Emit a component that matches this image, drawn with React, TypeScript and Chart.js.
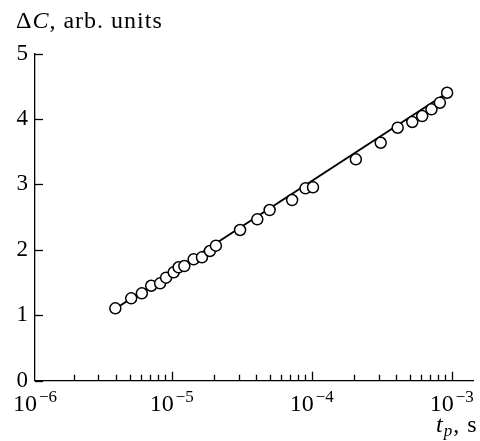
import React, { useEffect, useRef } from "react";
import { Chart, registerables } from "chart.js";

Chart.register(...registerables);

// Measured relaxation: pulse duration t_p (s) vs capacitance change ΔC (arb. units)
const pulseTimes = [
  3.96e-6, 5.14e-6, 6.12e-6, 7.14e-6, 8.27e-6, 9.12e-6, 1.033e-5, 1.121e-5, 1.231e-5,
  1.434e-5, 1.645e-5, 1.875e-5, 2.069e-5, 3.078e-5, 4.085e-5, 5.005e-5, 7.24e-5,
  9.02e-5, 1.021e-4, 2.065e-4, 3.108e-4, 4.106e-4, 5.222e-4, 6.15e-4, 7.16e-4,
  8.22e-4, 9.26e-4,
];
const deltaC = [
  1.106, 1.259, 1.335, 1.451, 1.488, 1.574, 1.656, 1.733, 1.752,
  1.855, 1.885, 1.982, 2.063, 2.303, 2.466, 2.608, 2.761,
  2.94, 2.955, 3.383, 3.636, 3.866, 3.953, 4.044, 4.147,
  4.248, 4.4,
];

// Logarithmic fit line (endpoints)
const fitTimes = [3.96e-6, 9.3e-4];
const fitValues = [1.1, 4.4];

// Axes
const xMin = 1.057e-6;
const xMax = 1.417e-3;
const xLabelExponents = [-6, -5, -4, -3];
const yMin = 0;
const yMax = 5;

const SERIF = "'Liberation Serif', 'Times New Roman', serif";

const decorPlugin = {
  id: "decor",
  afterDraw(chart: any) {
    const { ctx, chartArea } = chart;
    const xs = chart.scales.x;
    const ys = chart.scales.y;
    ctx.save();
    ctx.strokeStyle = "#000";
    ctx.fillStyle = "#000";
    ctx.lineWidth = 1.3;

    // inward y tick marks
    for (const t of ys.ticks) {
      const y = Math.round(ys.getPixelForValue(t.value)) + 0.5;
      ctx.beginPath();
      ctx.moveTo(chartArea.left, y);
      ctx.lineTo(chartArea.left + 8, y);
      ctx.stroke();
    }

    // inward x tick marks (major at decades, minor at 2..9)
    for (let d = -7; d <= -2; d++) {
      for (let m = 1; m <= 9; m++) {
        const v = m * Math.pow(10, d);
        if (v <= xMin || v > xMax) continue;
        const x = Math.round(xs.getPixelForValue(v)) + 0.5;
        const len = m === 1 ? 9 : 6;
        ctx.beginPath();
        ctx.moveTo(x, chartArea.bottom);
        ctx.lineTo(x, chartArea.bottom - len);
        ctx.stroke();
      }
    }

    // x tick labels as 10^n
    ctx.textBaseline = "alphabetic";
    for (const e of xLabelExponents) {
      const px = Math.max(chartArea.left, xs.getPixelForValue(Math.pow(10, e)));
      const base = "10";
      const exp = "\u2212" + Math.abs(e);
      ctx.font = `24px ${SERIF}`;
      const wb = ctx.measureText(base).width;
      ctx.font = `17px ${SERIF}`;
      const we = ctx.measureText(exp).width;
      const gap = 2;
      const total = wb + gap + we;
      const x0 = px - total / 2;
      ctx.textAlign = "left";
      ctx.font = `24px ${SERIF}`;
      ctx.fillText(base, x0, 411);
      ctx.font = `17px ${SERIF}`;
      ctx.fillText(exp, x0 + wb + gap, 401.5);
    }

    // y axis title: ΔC, arb. units
    ctx.textAlign = "left";
    (ctx as any).letterSpacing = "1px";
    let tx = 16;
    const ty = 28;
    ctx.font = `24px ${SERIF}`;
    ctx.fillText("\u0394", tx, ty);
    tx += ctx.measureText("\u0394").width;
    ctx.font = `italic 24px ${SERIF}`;
    ctx.fillText("C", tx, ty);
    tx += ctx.measureText("C").width;
    ctx.font = `24px ${SERIF}`;
    ctx.fillText(", arb. units", tx, ty);

    // x axis title: t_p, s
    let ax = 436;
    const ab = 432;
    ctx.font = `italic 24px ${SERIF}`;
    ctx.fillText("t", ax, ab);
    ax += ctx.measureText("t").width;
    ctx.font = `italic 17px ${SERIF}`;
    ctx.fillText("p", ax, ab + 4);
    ax += ctx.measureText("p").width;
    ctx.font = `24px ${SERIF}`;
    ctx.fillText(", s", ax, ab);
    (ctx as any).letterSpacing = "0px";

    ctx.restore();
  },
};

export default function App() {
  const canvasRef = useRef<HTMLCanvasElement | null>(null);

  useEffect(() => {
    const canvas = canvasRef.current;
    if (!canvas) return;
    const points = pulseTimes.map((t, i) => ({ x: t, y: deltaC[i] }));
    const fit = fitTimes.map((t, i) => ({ x: t, y: fitValues[i] }));

    const chart = new Chart(canvas, {
      type: "scatter",
      data: {
        datasets: [
          {
            label: "data",
            data: points,
            pointRadius: 5.5,
            pointBorderWidth: 1.5,
            pointBackgroundColor: "#fff",
            pointBorderColor: "#000",
            showLine: false,
            order: 0,
          },
          {
            label: "fit",
            data: fit,
            showLine: true,
            borderColor: "#000",
            borderWidth: 2,
            pointRadius: 0,
            order: 1,
          },
        ],
      },
      options: {
        responsive: false,
        animation: false,
        layout: { padding: { left: 0, right: 5, top: 53.5, bottom: 0 } },
        plugins: {
          legend: { display: false },
          tooltip: { enabled: false },
          title: { display: false },
        },
        scales: {
          x: {
            type: "logarithmic",
            min: xMin,
            max: xMax,
            ticks: { display: false },
            grid: { display: true, drawOnChartArea: false, drawTicks: false },
            border: { display: true, color: "#000", width: 1.3 },
            afterFit: (s: any) => {
              s.height = 441 - 380.7;
            },
          },
          y: {
            min: yMin,
            max: yMax,
            ticks: {
              stepSize: 1,
              padding: 7,
              color: "#000",
              font: { family: SERIF, size: 23 },
            },
            grid: { display: true, drawOnChartArea: false, drawTicks: false },
            border: { display: true, color: "#000", width: 1.3 },
            afterFit: (s: any) => {
              s.width = 35;
            },
          },
        },
      },
      plugins: [decorPlugin],
    });
    return () => chart.destroy();
  }, []);

  return (
    <div style={{ position: "fixed", left: 0, top: 0, width: 480, height: 441, background: "#fff" }}>
      <canvas ref={canvasRef} width={480} height={441} />
    </div>
  );
}
